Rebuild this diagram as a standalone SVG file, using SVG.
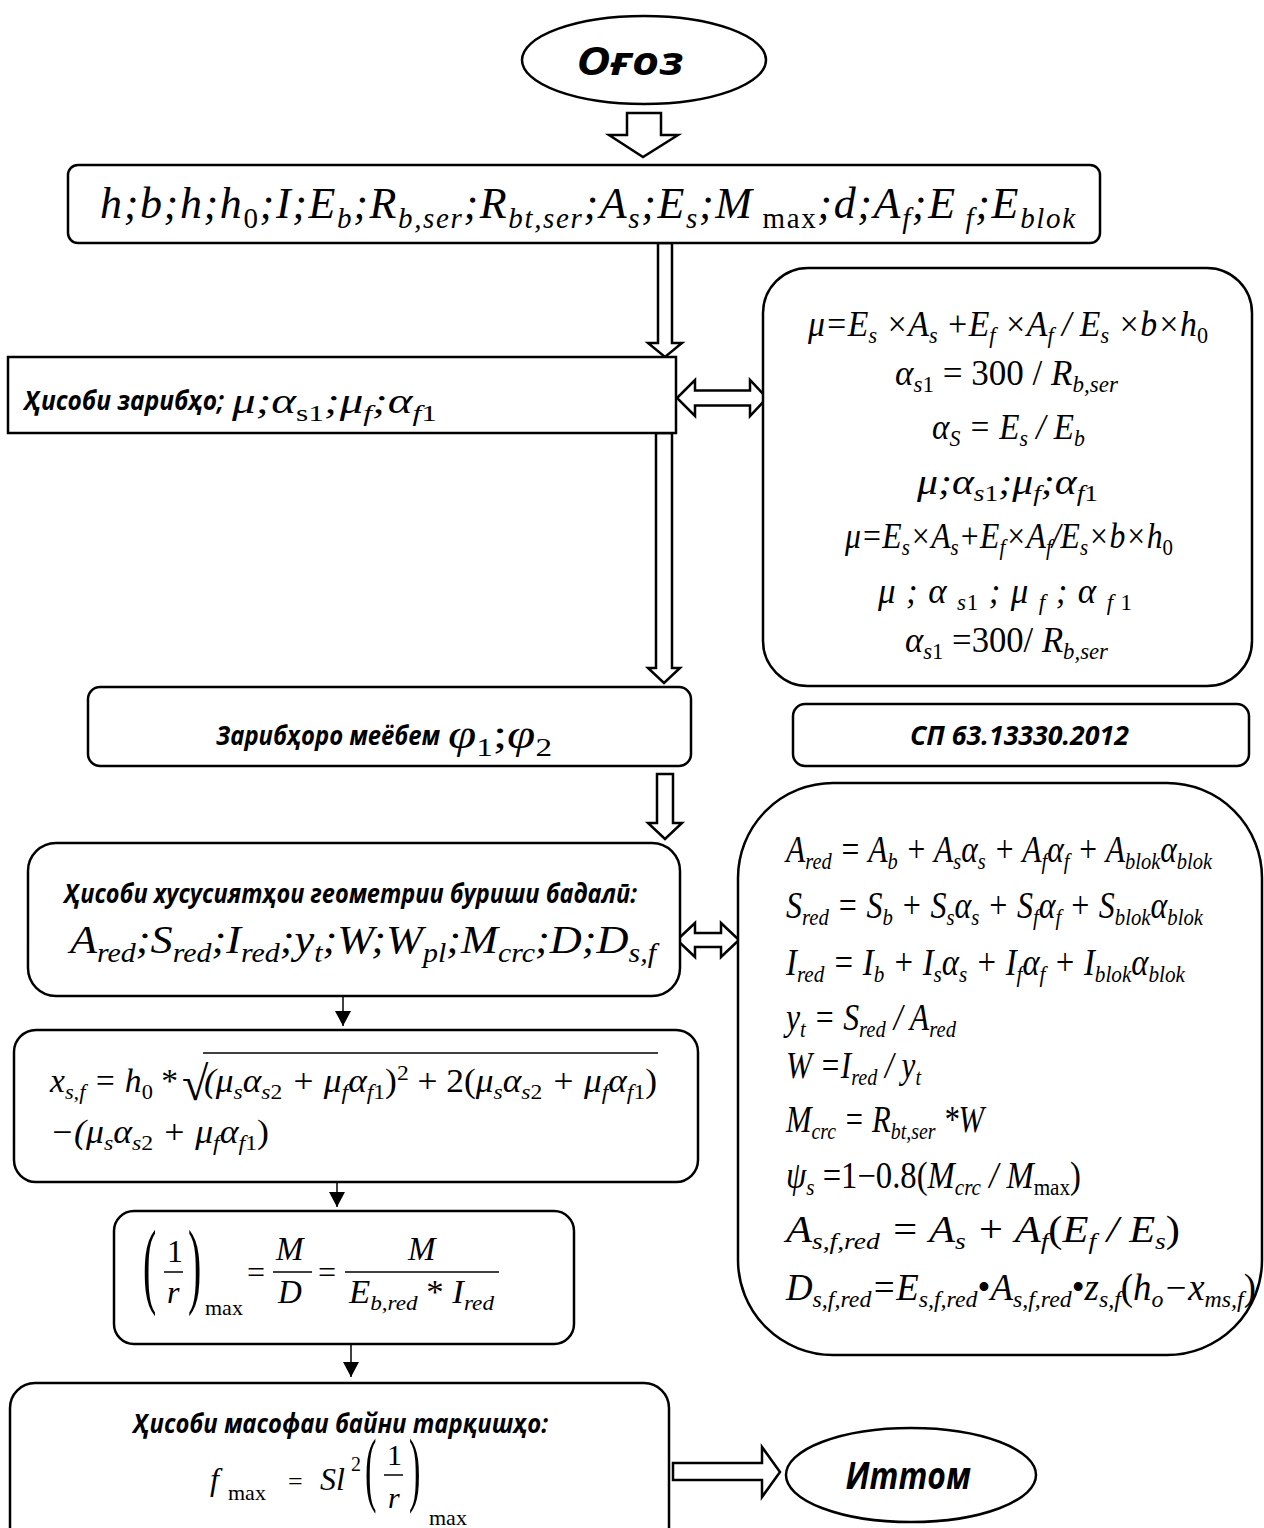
<svg xmlns="http://www.w3.org/2000/svg" width="1264" height="1528" viewBox="0 0 1264 1528">
<defs>
<style>
.box{fill:#fff;stroke:#000;stroke-width:2.5}
.hol{fill:#fff;stroke:#000;stroke-width:2.5;stroke-linejoin:miter}
.thin{stroke:#000;stroke-width:1.5;fill:none}
.lbl{font-family:"Open Sans","Noto Sans",sans-serif;font-weight:bold;font-style:italic;fill:#000}
.m{font-family:"Liberation Serif","Times New Roman",serif;font-style:italic;fill:#000}
.r{font-style:normal}
.bar{stroke:#000;stroke-width:1.5}
</style>
<marker id="ah" markerWidth="16" markerHeight="16" refX="15" refY="8" orient="auto" markerUnits="userSpaceOnUse"><path d="M0,0 L15,8 L0,16 Z" fill="#000"/></marker>
</defs>
<rect width="1264" height="1528" fill="#fff"/>

<g id="connectors">
<polygon class="hol" points="627,113 661,113 661,135 678,135 643,157 609,135 627,135"/>
<polygon class="hol" points="658,243 672,243 672,343 682,343 665,357 648,343 658,343"/>
<polygon class="hol" points="677,398 695,380 695,390.5 750,390.5 750,380 767,398 750,416 750,405.5 695,405.5 695,416"/>
<polygon class="hol" points="656,433 672,433 672,668 680,668 664,683 648,668 656,668"/>
<polygon class="hol" points="657,774 673,774 673,823 682,823 665,839 648,823 657,823"/>
<polygon class="hol" points="677,940 695,923 695,933 721,933 721,923 739,940 721,957 721,947 695,947 695,957"/>
<line class="thin" x1="343" y1="996" x2="343" y2="1026" marker-end="url(#ah)"/>
<line class="thin" x1="337" y1="1182" x2="337" y2="1207" marker-end="url(#ah)"/>
<line class="thin" x1="351" y1="1344" x2="351" y2="1377" marker-end="url(#ah)"/>
<polygon class="hol" points="673,1463 762,1463 762,1447 780,1472 762,1497 762,1480 673,1480"/>
</g>

<g id="start">
<ellipse class="box" cx="644" cy="60" rx="122" ry="44"/>
<text class="lbl" x="630" y="75" font-size="40" text-anchor="middle" textLength="107" lengthAdjust="spacingAndGlyphs">Оғоз</text>
</g>

<g id="input">
<rect class="box" x="68" y="165" width="1032" height="78" rx="10"/>
<text class="m" x="100" y="218" font-size="44" textLength="975" lengthAdjust="spacing">h;b;h;h<tspan class="r" font-size="29" dy="10">0</tspan><tspan dy="-10">;I;E</tspan><tspan font-size="29" dy="10">b</tspan><tspan dy="-10">;R</tspan><tspan font-size="29" dy="10">b,ser</tspan><tspan dy="-10">;R</tspan><tspan font-size="29" dy="10">bt,ser</tspan><tspan dy="-10">;A</tspan><tspan font-size="29" dy="10">s</tspan><tspan dy="-10">;E</tspan><tspan font-size="29" dy="10">s</tspan><tspan dy="-10">;M</tspan><tspan class="r" font-size="29" dy="10"> max</tspan><tspan dy="-10">;d;A</tspan><tspan font-size="29" dy="10">f</tspan><tspan dy="-10">;E</tspan><tspan font-size="29" dy="10"> f</tspan><tspan dy="-10">;E</tspan><tspan font-size="29" dy="10">blok</tspan></text>
</g>

<g id="coef">
<rect class="box" x="8" y="357" width="668" height="76"/>
<text class="lbl" x="24" y="410" font-size="26" textLength="200" lengthAdjust="spacingAndGlyphs">Ҳисоби зарибҳо;</text>
<text class="m" x="232" y="413" font-size="36" textLength="205" lengthAdjust="spacingAndGlyphs">μ;α<tspan class="r" font-size="24" dy="8">s1</tspan><tspan dy="-8">;μ</tspan><tspan font-size="24" dy="8">f</tspan><tspan dy="-8">;α</tspan><tspan font-size="24" dy="8">f</tspan><tspan class="r" font-size="24">1</tspan></text>
</g>

<g id="coef-formulas">
<rect class="box" x="763" y="268" width="489" height="418" rx="45"/>
<text class="m" x="808" y="336" font-size="35" textLength="400" lengthAdjust="spacingAndGlyphs">μ=E<tspan font-size="23" dy="7">s</tspan><tspan dy="-7"> ×A</tspan><tspan font-size="23" dy="7">s</tspan><tspan dy="-7"> +E</tspan><tspan font-size="23" dy="7">f</tspan><tspan dy="-7"> ×A</tspan><tspan font-size="23" dy="7">f</tspan><tspan dy="-7"> / E</tspan><tspan font-size="23" dy="7">s</tspan><tspan dy="-7"> ×b×h</tspan><tspan class="r" font-size="23" dy="7">0</tspan></text>
<text class="m" x="895" y="385" font-size="35" textLength="223" lengthAdjust="spacingAndGlyphs">α<tspan font-size="23" dy="7">s</tspan><tspan class="r" font-size="23">1</tspan><tspan class="r" dy="-7"> = 300 / </tspan><tspan>R</tspan><tspan font-size="23" dy="7">b,ser</tspan></text>
<text class="m" x="932" y="439" font-size="35" textLength="153" lengthAdjust="spacingAndGlyphs">α<tspan font-size="23" dy="7">S</tspan><tspan dy="-7"> = E</tspan><tspan font-size="23" dy="7">s</tspan><tspan dy="-7"> / E</tspan><tspan font-size="23" dy="7">b</tspan></text>
<text class="m" x="917" y="494" font-size="35" textLength="181" lengthAdjust="spacingAndGlyphs">μ;α<tspan font-size="23" dy="7">s</tspan><tspan class="r" font-size="23">1</tspan><tspan dy="-7">;μ</tspan><tspan font-size="23" dy="7">f</tspan><tspan dy="-7">;α</tspan><tspan font-size="23" dy="7">f</tspan><tspan class="r" font-size="23">1</tspan></text>
<text class="m" x="845" y="548" font-size="35" textLength="328" lengthAdjust="spacingAndGlyphs">μ=E<tspan font-size="23" dy="7">s</tspan><tspan dy="-7">×A</tspan><tspan font-size="23" dy="7">s</tspan><tspan dy="-7">+E</tspan><tspan font-size="23" dy="7">f</tspan><tspan dy="-7">×A</tspan><tspan font-size="23" dy="7">f</tspan><tspan dy="-7">/E</tspan><tspan font-size="23" dy="7">s</tspan><tspan dy="-7">×b×h</tspan><tspan class="r" font-size="23" dy="7">0</tspan></text>
<text class="m" x="878" y="603" font-size="35" textLength="254" lengthAdjust="spacing">μ ; α <tspan font-size="23" dy="7"> s</tspan><tspan class="r" font-size="23">1</tspan><tspan dy="-7"> ; μ </tspan><tspan font-size="23" dy="7"> f</tspan><tspan dy="-7"> ; α </tspan><tspan font-size="23" dy="7"> f</tspan><tspan class="r" font-size="23"> 1</tspan></text>
<text class="m" x="905" y="652" font-size="35" textLength="203" lengthAdjust="spacingAndGlyphs">α<tspan font-size="23" dy="7">s</tspan><tspan class="r" font-size="23">1</tspan><tspan class="r" dy="-7"> =300/ </tspan><tspan>R</tspan><tspan font-size="23" dy="7">b,ser</tspan></text>
</g>

<g id="phi">
<rect class="box" x="88" y="687" width="603" height="79" rx="12"/>
<text class="lbl" x="216" y="745" font-size="27" textLength="224" lengthAdjust="spacingAndGlyphs">Зарибҳоро меёбем</text>
<text class="m" x="448" y="748" font-size="40" textLength="104" lengthAdjust="spacingAndGlyphs">φ<tspan class="r" font-size="26" dy="8">1</tspan><tspan class="r" dy="-8">;</tspan><tspan>φ</tspan><tspan class="r" font-size="26" dy="8">2</tspan></text>
</g>

<g id="norm">
<rect class="box" x="793" y="704" width="456" height="62" rx="12"/>
<text class="lbl" x="910" y="745" font-size="27" textLength="219" lengthAdjust="spacingAndGlyphs">СП 63.13330.2012</text>
</g>

<g id="geometry">
<rect class="box" x="28" y="843" width="652" height="153" rx="28"/>
<text class="lbl" x="64" y="903" font-size="26" textLength="573" lengthAdjust="spacingAndGlyphs">Ҳисоби хусусиятҳои геометрии буриши бадалӣ:</text>
<text class="m" x="70" y="953" font-size="40" textLength="586" lengthAdjust="spacingAndGlyphs">A<tspan font-size="27" dy="9">red</tspan><tspan dy="-9">;S</tspan><tspan font-size="27" dy="9">red</tspan><tspan dy="-9">;I</tspan><tspan font-size="27" dy="9">red</tspan><tspan dy="-9">;y</tspan><tspan font-size="27" dy="9">t</tspan><tspan dy="-9">;W;W</tspan><tspan font-size="27" dy="9">pl</tspan><tspan dy="-9">;M</tspan><tspan font-size="27" dy="9">crc</tspan><tspan dy="-9">;D;D</tspan><tspan font-size="27" dy="9">s,f</tspan></text>
</g>

<g id="geometry-formulas">
<rect class="box" x="738" y="783" width="524" height="572" rx="95"/>
<text class="m" x="786" y="862" font-size="37" textLength="426" lengthAdjust="spacingAndGlyphs">A<tspan font-size="24" dy="7">red</tspan><tspan dy="-7"> = A</tspan><tspan font-size="24" dy="7">b</tspan><tspan dy="-7"> + A</tspan><tspan font-size="24" dy="7">s</tspan><tspan dy="-7">α</tspan><tspan font-size="24" dy="7">s</tspan><tspan dy="-7"> + A</tspan><tspan font-size="24" dy="7">f</tspan><tspan dy="-7">α</tspan><tspan font-size="24" dy="7">f</tspan><tspan dy="-7"> + A</tspan><tspan font-size="24" dy="7">blok</tspan><tspan dy="-7">α</tspan><tspan font-size="24" dy="7">blok</tspan></text>
<text class="m" x="786" y="918" font-size="37" textLength="417" lengthAdjust="spacingAndGlyphs">S<tspan font-size="24" dy="7">red</tspan><tspan dy="-7"> = S</tspan><tspan font-size="24" dy="7">b</tspan><tspan dy="-7"> + S</tspan><tspan font-size="24" dy="7">s</tspan><tspan dy="-7">α</tspan><tspan font-size="24" dy="7">s</tspan><tspan dy="-7"> + S</tspan><tspan font-size="24" dy="7">f</tspan><tspan dy="-7">α</tspan><tspan font-size="24" dy="7">f</tspan><tspan dy="-7"> + S</tspan><tspan font-size="24" dy="7">blok</tspan><tspan dy="-7">α</tspan><tspan font-size="24" dy="7">blok</tspan></text>
<text class="m" x="786" y="975" font-size="37" textLength="399" lengthAdjust="spacingAndGlyphs">I<tspan font-size="24" dy="7">red</tspan><tspan dy="-7"> = I</tspan><tspan font-size="24" dy="7">b</tspan><tspan dy="-7"> + I</tspan><tspan font-size="24" dy="7">s</tspan><tspan dy="-7">α</tspan><tspan font-size="24" dy="7">s</tspan><tspan dy="-7"> + I</tspan><tspan font-size="24" dy="7">f</tspan><tspan dy="-7">α</tspan><tspan font-size="24" dy="7">f</tspan><tspan dy="-7"> + I</tspan><tspan font-size="24" dy="7">blok</tspan><tspan dy="-7">α</tspan><tspan font-size="24" dy="7">blok</tspan></text>
<text class="m" x="786" y="1030" font-size="37" textLength="170" lengthAdjust="spacingAndGlyphs">y<tspan font-size="24" dy="7">t</tspan><tspan dy="-7"> = S</tspan><tspan font-size="24" dy="7">red</tspan><tspan dy="-7"> / A</tspan><tspan font-size="24" dy="7">red</tspan></text>
<text class="m" x="786" y="1078" font-size="37" textLength="135" lengthAdjust="spacingAndGlyphs">W =I<tspan font-size="24" dy="7">red</tspan><tspan dy="-7"> / y</tspan><tspan font-size="24" dy="7">t</tspan></text>
<text class="m" x="786" y="1132" font-size="37" textLength="198" lengthAdjust="spacingAndGlyphs">M<tspan font-size="24" dy="7">crc</tspan><tspan dy="-7"> = R</tspan><tspan font-size="24" dy="7">bt,ser</tspan><tspan dy="-7"> *W</tspan></text>
<text class="m" x="786" y="1188" font-size="37" textLength="295" lengthAdjust="spacingAndGlyphs">ψ<tspan font-size="24" dy="7">s</tspan><tspan class="r" dy="-7"> =1−0.8(</tspan><tspan>M</tspan><tspan font-size="24" dy="7">crc</tspan><tspan dy="-7"> / M</tspan><tspan class="r" font-size="24" dy="7">max</tspan><tspan class="r" dy="-7">)</tspan></text>
<text class="m" x="786" y="1242" font-size="37" textLength="394" lengthAdjust="spacingAndGlyphs">A<tspan font-size="24" dy="7">s,f,red</tspan><tspan dy="-7"> = A</tspan><tspan font-size="24" dy="7">s</tspan><tspan dy="-7"> + A</tspan><tspan font-size="24" dy="7">f</tspan><tspan class="r" dy="-7">(</tspan><tspan>E</tspan><tspan font-size="24" dy="7">f</tspan><tspan dy="-7"> / E</tspan><tspan font-size="24" dy="7">s</tspan><tspan class="r" dy="-7">)</tspan></text>
<text class="m" x="786" y="1300" font-size="37" textLength="470" lengthAdjust="spacingAndGlyphs">D<tspan font-size="24" dy="7">s,f,red</tspan><tspan dy="-7">=E</tspan><tspan font-size="24" dy="7">s,f,red</tspan><tspan class="r" dy="-7">•</tspan><tspan>A</tspan><tspan font-size="24" dy="7">s,f,red</tspan><tspan class="r" dy="-7">•</tspan><tspan>z</tspan><tspan font-size="24" dy="7">s,f</tspan><tspan class="r" dy="-7">(</tspan><tspan>h</tspan><tspan font-size="24" dy="7">o</tspan><tspan dy="-7">−x</tspan><tspan font-size="24" dy="7">ms,f</tspan><tspan class="r" dy="-7">)</tspan></text>
</g>

<g id="height-x">
<rect class="box" x="14" y="1030" width="684" height="152" rx="22"/>
<text class="m" x="50" y="1092" font-size="33" textLength="128" lengthAdjust="spacingAndGlyphs">x<tspan font-size="22" dy="7">s,f</tspan><tspan dy="-7"> = h</tspan><tspan class="r" font-size="22" dy="7">0</tspan><tspan class="r" dy="-7"> *</tspan></text>
<text class="m r" x="182" y="1100" font-size="48" font-style="normal">√</text>
<line class="bar" x1="203" y1="1053" x2="658" y2="1053"/>
<text class="m" x="204" y="1092" font-size="33" textLength="453" lengthAdjust="spacingAndGlyphs">(μ<tspan font-size="22" dy="7">s</tspan><tspan dy="-7">α</tspan><tspan font-size="22" dy="7">s</tspan><tspan class="r" font-size="22">2</tspan><tspan dy="-7"> + μ</tspan><tspan font-size="22" dy="7">f</tspan><tspan dy="-7">α</tspan><tspan font-size="22" dy="7">f</tspan><tspan class="r" font-size="22">1</tspan><tspan class="r" dy="-7">)</tspan><tspan class="r" font-size="22" dy="-12">2</tspan><tspan class="r" dy="12"> + 2(</tspan><tspan>μ</tspan><tspan font-size="22" dy="7">s</tspan><tspan dy="-7">α</tspan><tspan font-size="22" dy="7">s</tspan><tspan class="r" font-size="22">2</tspan><tspan dy="-7"> + μ</tspan><tspan font-size="22" dy="7">f</tspan><tspan dy="-7">α</tspan><tspan font-size="22" dy="7">f</tspan><tspan class="r" font-size="22">1</tspan><tspan class="r" dy="-7">)</tspan></text>
<text class="m" x="50" y="1143" font-size="33" textLength="219" lengthAdjust="spacingAndGlyphs">−(μ<tspan font-size="22" dy="7">s</tspan><tspan dy="-7">α</tspan><tspan font-size="22" dy="7">s</tspan><tspan class="r" font-size="22">2</tspan><tspan dy="-7"> + μ</tspan><tspan font-size="22" dy="7">f</tspan><tspan dy="-7">α</tspan><tspan font-size="22" dy="7">f</tspan><tspan class="r" font-size="22">1</tspan><tspan class="r" dy="-7">)</tspan></text>
</g>

<g id="curvature">
<rect class="box" x="114" y="1211" width="460" height="133" rx="20"/>
<text class="m r" font-style="normal" font-size="95" transform="translate(143,1296) scale(0.42,1)">(</text>
<text class="m r" font-style="normal" font-size="95" transform="translate(188,1296) scale(0.42,1)">)</text>
<text class="m r" font-style="normal" x="167" y="1262" font-size="32">1</text>
<line class="bar" x1="164" y1="1272" x2="183" y2="1272"/>
<text class="m" x="167" y="1303" font-size="32">r</text>
<text class="m r" font-style="normal" x="205" y="1315" font-size="22">max</text>
<text class="m r" font-style="normal" x="247" y="1283" font-size="32">=</text>
<text class="m" x="276" y="1260" font-size="33">M</text>
<line class="bar" x1="273" y1="1272" x2="312" y2="1272"/>
<text class="m" x="278" y="1303" font-size="33">D</text>
<text class="m r" font-style="normal" x="318" y="1283" font-size="32">=</text>
<text class="m" x="408" y="1260" font-size="33">M</text>
<line class="bar" x1="345" y1="1272" x2="499" y2="1272"/>
<text class="m" x="349" y="1303" font-size="33" textLength="145" lengthAdjust="spacingAndGlyphs">E<tspan font-size="22" dy="7">b,red</tspan><tspan class="r" dy="-7"> * </tspan><tspan>I</tspan><tspan font-size="22" dy="7">red</tspan></text>
</g>

<g id="deflection">
<rect class="box" x="10" y="1383" width="659" height="175" rx="25"/>
<text class="lbl" x="133" y="1433" font-size="27" textLength="415" lengthAdjust="spacingAndGlyphs">Ҳисоби масофаи байни тарқишҳо:</text>
<text class="m" x="210" y="1490" font-size="32">f</text>
<text class="m r" font-style="normal" x="228" y="1500" font-size="22">max</text>
<text class="m r" font-style="normal" x="288" y="1490" font-size="26">=</text>
<text class="m" x="320" y="1490" font-size="32">Sl</text>
<text class="m r" font-style="normal" x="351" y="1471" font-size="20">2</text>
<text class="m r" font-style="normal" font-size="82" transform="translate(365,1496) scale(0.42,1)">(</text>
<text class="m r" font-style="normal" font-size="82" transform="translate(409,1496) scale(0.42,1)">)</text>
<text class="m r" font-style="normal" x="387" y="1465" font-size="30">1</text>
<line class="bar" x1="384" y1="1475" x2="403" y2="1475"/>
<text class="m" x="388" y="1508" font-size="30">r</text>
<text class="m r" font-style="normal" x="429" y="1525" font-size="22">max</text>
</g>

<g id="end">
<ellipse class="box" cx="911" cy="1475" rx="125" ry="47"/>
<text class="lbl" x="908" y="1489" font-size="38" text-anchor="middle" textLength="125" lengthAdjust="spacingAndGlyphs">Иттом</text>
</g>
</svg>
